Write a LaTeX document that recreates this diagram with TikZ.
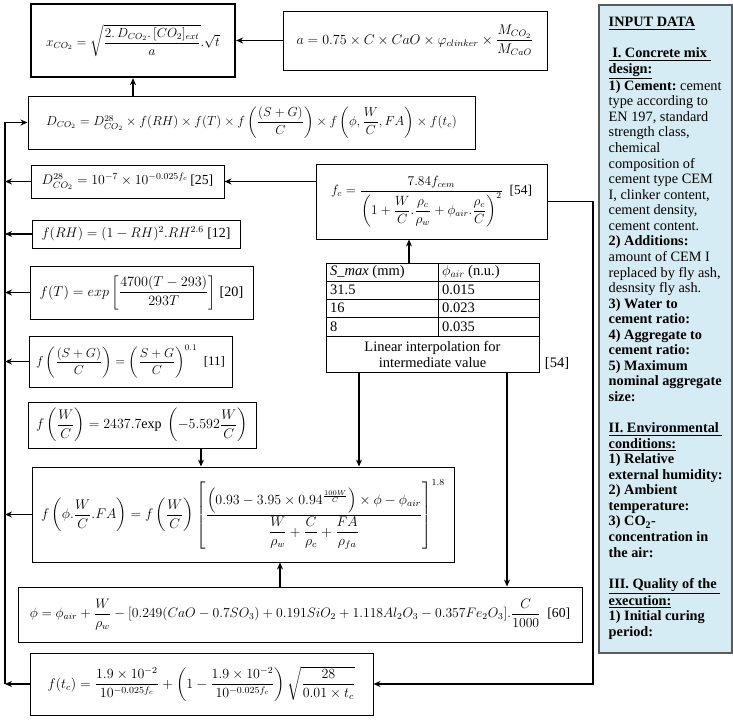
\documentclass[tikz,border=0pt]{standalone}
\usepackage{amsmath}
\usepackage{graphicx}
\usepackage{fontspec}
\setmainfont{Liberation Serif}
\usetikzlibrary{arrows.meta,calc}
\definecolor{panelblue}{RGB}{214,236,244}
\definecolor{panelborder}{RGB}{90,90,90}
\newcommand{\fscale}[2]{\scalebox{#1}{\fontsize{12}{14}\selectfont #2}}
\tikzset{
  bx/.style={draw, line width=1pt, inner sep=0pt, align=center},
  arr/.style={line width=1.8pt, -{Stealth[length=7pt,width=6pt]}},
  cell/.style={anchor=west, inner sep=0pt, font=\fontsize{14.5}{16}\selectfont},
}
\begin{document}
\begin{tikzpicture}[x=1pt,y=-1pt]
\useasboundingbox (0,0) rectangle (733,720);
% boxes
\node[bx, line width=2.2pt, minimum width=204pt, minimum height=73pt] (X) at (133,40.5)
 {\fscale{1.1}{$x_{CO_2} = \sqrt{\dfrac{2.\,D_{CO_2}.\,[CO_2]_{ext}}{a}}.\sqrt{t}$}};
\node[bx, minimum width=264pt, minimum height=59pt] (A) at (415,40.5)
 {\fscale{1.167}{$a = 0.75 \times C \times CaO \times \varphi_{clinker} \times \dfrac{M_{CO_2}}{M_{CaO}}$}};
\node[bx, minimum width=447pt, minimum height=53pt] (D) at (251.5,122.5)
 {\fscale{1.09}{$D_{CO_2} = D^{28}_{CO_2} \times f(RH) \times f(T) \times f\left(\dfrac{(S+G)}{C}\right) \times f\left(\phi, \dfrac{W}{C}, FA\right) \times f(t_c)$}};
\node[bx, minimum width=193pt, minimum height=33pt] (D28) at (127.5,181.5)
 {\fscale{1.15}{$D^{28}_{CO_2} = 10^{-7} \times 10^{-0.025 f_c}$\,[25]}};
\node[bx, minimum width=231pt, minimum height=75pt] (FC) at (431.5,201.5)
 {\fscale{1.117}{$f_c = \dfrac{7.84 f_{cem}}{\left(1 + \dfrac{W}{C}.\dfrac{\rho_c}{\rho_w} + \phi_{air}.\dfrac{\rho_c}{C}\right)^2}$\ \ [54]}};
\node[bx, minimum width=208pt, minimum height=28pt] (RH) at (136,234)
 {\fscale{1.158}{$f(RH) = (1-RH)^2.RH^{2.6}$ [12]}};
\node[bx, minimum width=223pt, minimum height=53pt] (T) at (141.5,292.5)
 {\fscale{1.183}{$f(T) = exp\left[\dfrac{4700(T-293)}{293T}\right]$ [20]}};
\node[bx, minimum width=203pt, minimum height=51pt] (SG) at (130.5,361.5)
 {\fscale{1.083}{$f\left(\dfrac{(S+G)}{C}\right) = \left(\dfrac{S+G}{C}\right)^{0.1}$\ \ [11]}};
\node[bx, minimum width=228pt, minimum height=46pt] (WC) at (142,425)
 {\fscale{1.167}{$f\left(\dfrac{W}{C}\right) = 2437.7\mathrm{exp}\ \left(-5.592\dfrac{W}{C}\right)$}};
\node[bx, minimum width=422pt, minimum height=95pt] (FP) at (243,514.5)
 {\fscale{1.167}{$f\left(\phi.\dfrac{W}{C}.FA\right) = f\left(\dfrac{W}{C}\right)\left[\dfrac{\left(0.93 - 3.95\times 0.94^{\frac{100W}{C}}\right)\times\phi - \phi_{air}}{\dfrac{W}{\rho_w} + \dfrac{C}{\rho_c} + \dfrac{FA}{\rho_{fa}}}\right]^{1.8}$}};
\node[bx, minimum width=564pt, minimum height=55pt] (PHI) at (300,614.5)
 {\fscale{1.142}{$\phi = \phi_{air} + \dfrac{W}{\rho_w} - [0.249(CaO - 0.7SO_3) + 0.191SiO_2 + 1.118Al_2O_3 - 0.357Fe_2O_3].\dfrac{C}{1000}$\ \ [60]}};
\node[bx, minimum width=343pt, minimum height=62pt] (TC) at (201.5,684)
 {\fscale{1.167}{$f(t_c) = \dfrac{1.9\times10^{-2}}{10^{-0.025f_c}} + \left(1 - \dfrac{1.9\times10^{-2}}{10^{-0.025f_c}}\right)\sqrt{\dfrac{28}{0.01\times t_c}}$}};
% table
\node[draw, line width=1pt, minimum width=213pt, minimum height=109pt, inner sep=0pt] (TAB) at (432.5,317.5) {};
\coordinate (tc) at (438,0);
\draw[line width=1pt] (326,281) -- (539,281) (326,299) -- (539,299) (326,317) -- (539,317) (326,336) -- (539,336);
\draw[line width=1pt] (TAB.north -| tc) -- (438,336);
\node[cell] (t11) at (330,272) {\textit{S\_max} (mm)};
\node[cell] (t12) at (442,272) {$\phi_{air}$ (n.u.)};
\node[cell] (t21) at (330,290) {31.5};
\node[cell] (t22) at (442,290) {0.015};
\node[cell] (t31) at (330,308) {16};
\node[cell] (t32) at (442,308) {0.023};
\node[cell] (t41) at (330,326.5) {8};
\node[cell] (t42) at (442,326.5) {0.035};
\node[cell, anchor=center, align=center] (t5) at (432.5,354) {Linear interpolation for\\intermediate value};
\node[cell, anchor=center] (ref54) at (557,363) {[54]};
% input panel
\node[draw=panelborder, fill=panelblue, line width=1.2pt, minimum width=133pt, minimum height=648pt, inner sep=0pt] (P) at (665.5,329) {};
\node[anchor=north west, inner sep=0pt, align=left, font=\fontsize{14.3}{15.56}\selectfont\frenchspacing] (PT) at (608.5,17) {%
\underline{\textbf{INPUT DATA}}\\[15.56pt]
\underline{\textbf{\ I. Concrete mix\ }}\\
\underline{\textbf{design:}}\\
\textbf{1) Cement:} cement\\
type according to\\
EN 197, standard\\
strength class,\\
chemical\\
composition of\\
cement type CEM\\
I, clinker content,\\
cement density,\\
cement content.\\
\textbf{2) Additions:}\\
amount of CEM I\\
replaced by fly ash,\\
desnsity fly ash.\\
\textbf{3) Water to}\\
\textbf{cement ratio:}\\
\textbf{4) Aggregate to}\\
\textbf{cement ratio:}\\
\textbf{5) Maximum}\\
\textbf{nominal aggregate}\\
\textbf{size:}\\[15.56pt]
\underline{\textbf{II. Environmental\ }}\\
\underline{\textbf{conditions:}}\\
\textbf{1) Relative}\\
\textbf{external humidity:}\\
\textbf{2) Ambient}\\
\textbf{temperature:}\\
\textbf{3) CO\textsubscript{2}-}\\
\textbf{concentration in}\\
\textbf{the air:}\\[15.56pt]
\underline{\textbf{III. Quality of the\ }}\\
\underline{\textbf{execution:}}\\
\textbf{1) Initial curing}\\
\textbf{period:}};
% connector helper coordinates
\coordinate (ll) at (5,0);
\coordinate (rl) at (593,0);
\coordinate (xa) at (409,0);
\coordinate (xb) at (359,0);
\coordinate (xc) at (507,0);
\coordinate (xd) at (201,0);
\coordinate (xe) at (280,0);
% connectors
\draw[arr] (A.west) -- (X.east);
\draw[arr] (X.south |- D.north) -- (X.south);
\draw[arr] (FC.west |- D28.east) -- (D28.east);
\draw[arr] (TAB.north -| xa) -- (FC.south -| xa);
\draw[arr] (TAB.south -| xb) -- (FP.north -| xb);
\draw[arr] (TAB.south -| xc) -- (PHI.north -| xc);
\draw[arr] (WC.south -| xd) -- (FP.north -| xd);
\draw[arr] (PHI.north -| xe) -- (FP.south -| xe);
\draw[arr] (FC.east) -- (FC.east -| rl) -- (rl |- TC.east) -- (TC.east);
\draw[arr] (D28.west) -- (D28.west -| ll);
\draw[arr] (RH.west) -- (RH.west -| ll);
\draw[arr] (T.west) -- (T.west -| ll);
\draw[arr] (SG.west) -- (SG.west -| ll);
\draw[arr] (FP.west) -- (FP.west -| ll);
\draw[arr] (TC.west) -- (TC.west -| ll);
\draw[arr] (TC.west -| ll) -- (ll |- D.west) -- (D.west);
\end{tikzpicture}
\end{document}
